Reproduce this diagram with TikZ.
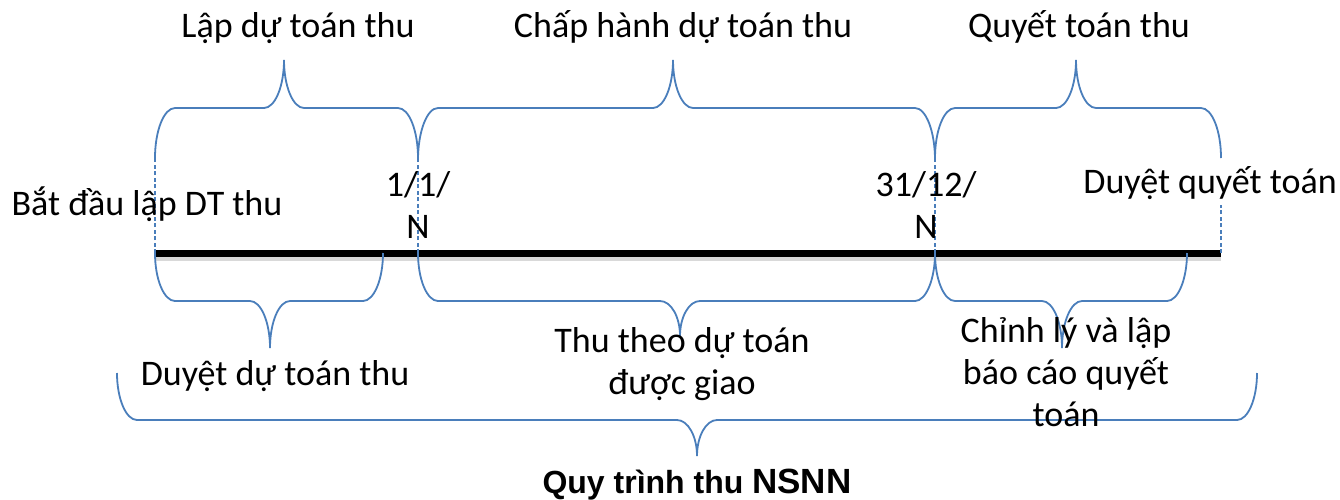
\documentclass[tikz,border=0pt]{standalone}
\usepackage{fontspec}
\setmainfont{Carlito}
\newfontfamily\titlefont{Liberation Sans}

\definecolor{braceblue}{RGB}{74,126,187}

% x1, x2, tip x, end y, middle y, tip y
\newcommand{\curlybrace}[6]{%
  \draw[brace line] (#1,#4) .. controls (#1,{#4+0.55*(#5-#4)}) and ({#1+9},#5) .. ({#1+20},#5)
    -- ({#3-20},#5) .. controls ({#3-9},#5) and (#3,{#6+0.55*(#5-#6)}) .. (#3,#6)
    .. controls (#3,{#6+0.55*(#5-#6)}) and ({#3+9},#5) .. ({#3+20},#5)
    -- ({#2-20},#5) .. controls ({#2-9},#5) and (#2,{#4+0.55*(#5-#4)}) .. (#2,#4);
}

\begin{document}
\begin{tikzpicture}[x=1pt,y=-1pt,
  lbl/.style={font=\fontsize{36}{42}\selectfont,inner sep=0pt,align=center},
  brace line/.style={draw=braceblue,line width=1.8pt},
  tick/.style={draw=braceblue,line width=1.5pt,dash pattern=on 4pt off 2.5pt}]

\useasboundingbox (0,0) rectangle (1340,499);

% time line
\coordinate (t0) at (155,253);
\coordinate (t1) at (418,253);
\coordinate (t2) at (935,253);
\coordinate (t3) at (1221,253);

\draw[black!25,line width=7pt,opacity=0.6] ([yshift=-4pt]t0) -- ([yshift=-4pt]t3);
\draw[black,line width=7pt] (t0) -- (t3);

\draw[tick] (t0) -- ++(0,-95);
\draw[tick] (t1) -- ++(0,-93);
\draw[tick] (t2) -- ++(0,-93);
\draw[tick] (t3) -- ++(0,-48);

% upper braces
\curlybrace{155}{418}{284}{158}{108}{60}
\curlybrace{418}{935}{673}{160}{108}{60}
\curlybrace{935}{1221}{1076}{158}{108}{60}

% lower braces
\curlybrace{155}{383}{270}{253}{301}{348}
\curlybrace{418}{935}{680}{253}{301}{336}
\curlybrace{935}{1187}{1062}{253}{301}{348}
\curlybrace{117}{1257}{697}{373}{420}{456}

% labels
\node[lbl,anchor=base] (lap) at (298,37) {Lập dự toán thu};
\node[lbl,anchor=base] (chaphanh) at (683,37) {Chấp hành dự toán thu};
\node[lbl,anchor=base] (quyettoan) at (1079,37) {Quyết toán thu};
\node[lbl,anchor=base] (batdau) at (147,215) {Bắt đầu lập DT thu};
\node[lbl] (dau) at (418,205) {1/1/\\N};
\node[lbl] (cuoi) at (926,205) {31/12/\\N};
\node[lbl,anchor=base] (duyetqt) at (1210,193) {Duyệt quyết toán};
\node[lbl,anchor=base] (duyetdt) at (275,385) {Duyệt dự toán thu};
\node[lbl] (thutheo) at (682,364) {Thu theo dự toán\\được giao};
\node[lbl] (chinhly) at (1066,372) {Chỉnh lý và lập\\báo cáo quyết\\toán};
\node[inner sep=0pt,anchor=base] (quytrinh) at (697,493)
  {\titlefont\bfseries\fontsize{32}{38}\selectfont Quy trình thu \fontsize{35}{40}\selectfont NSNN};

\end{tikzpicture}
\end{document}
